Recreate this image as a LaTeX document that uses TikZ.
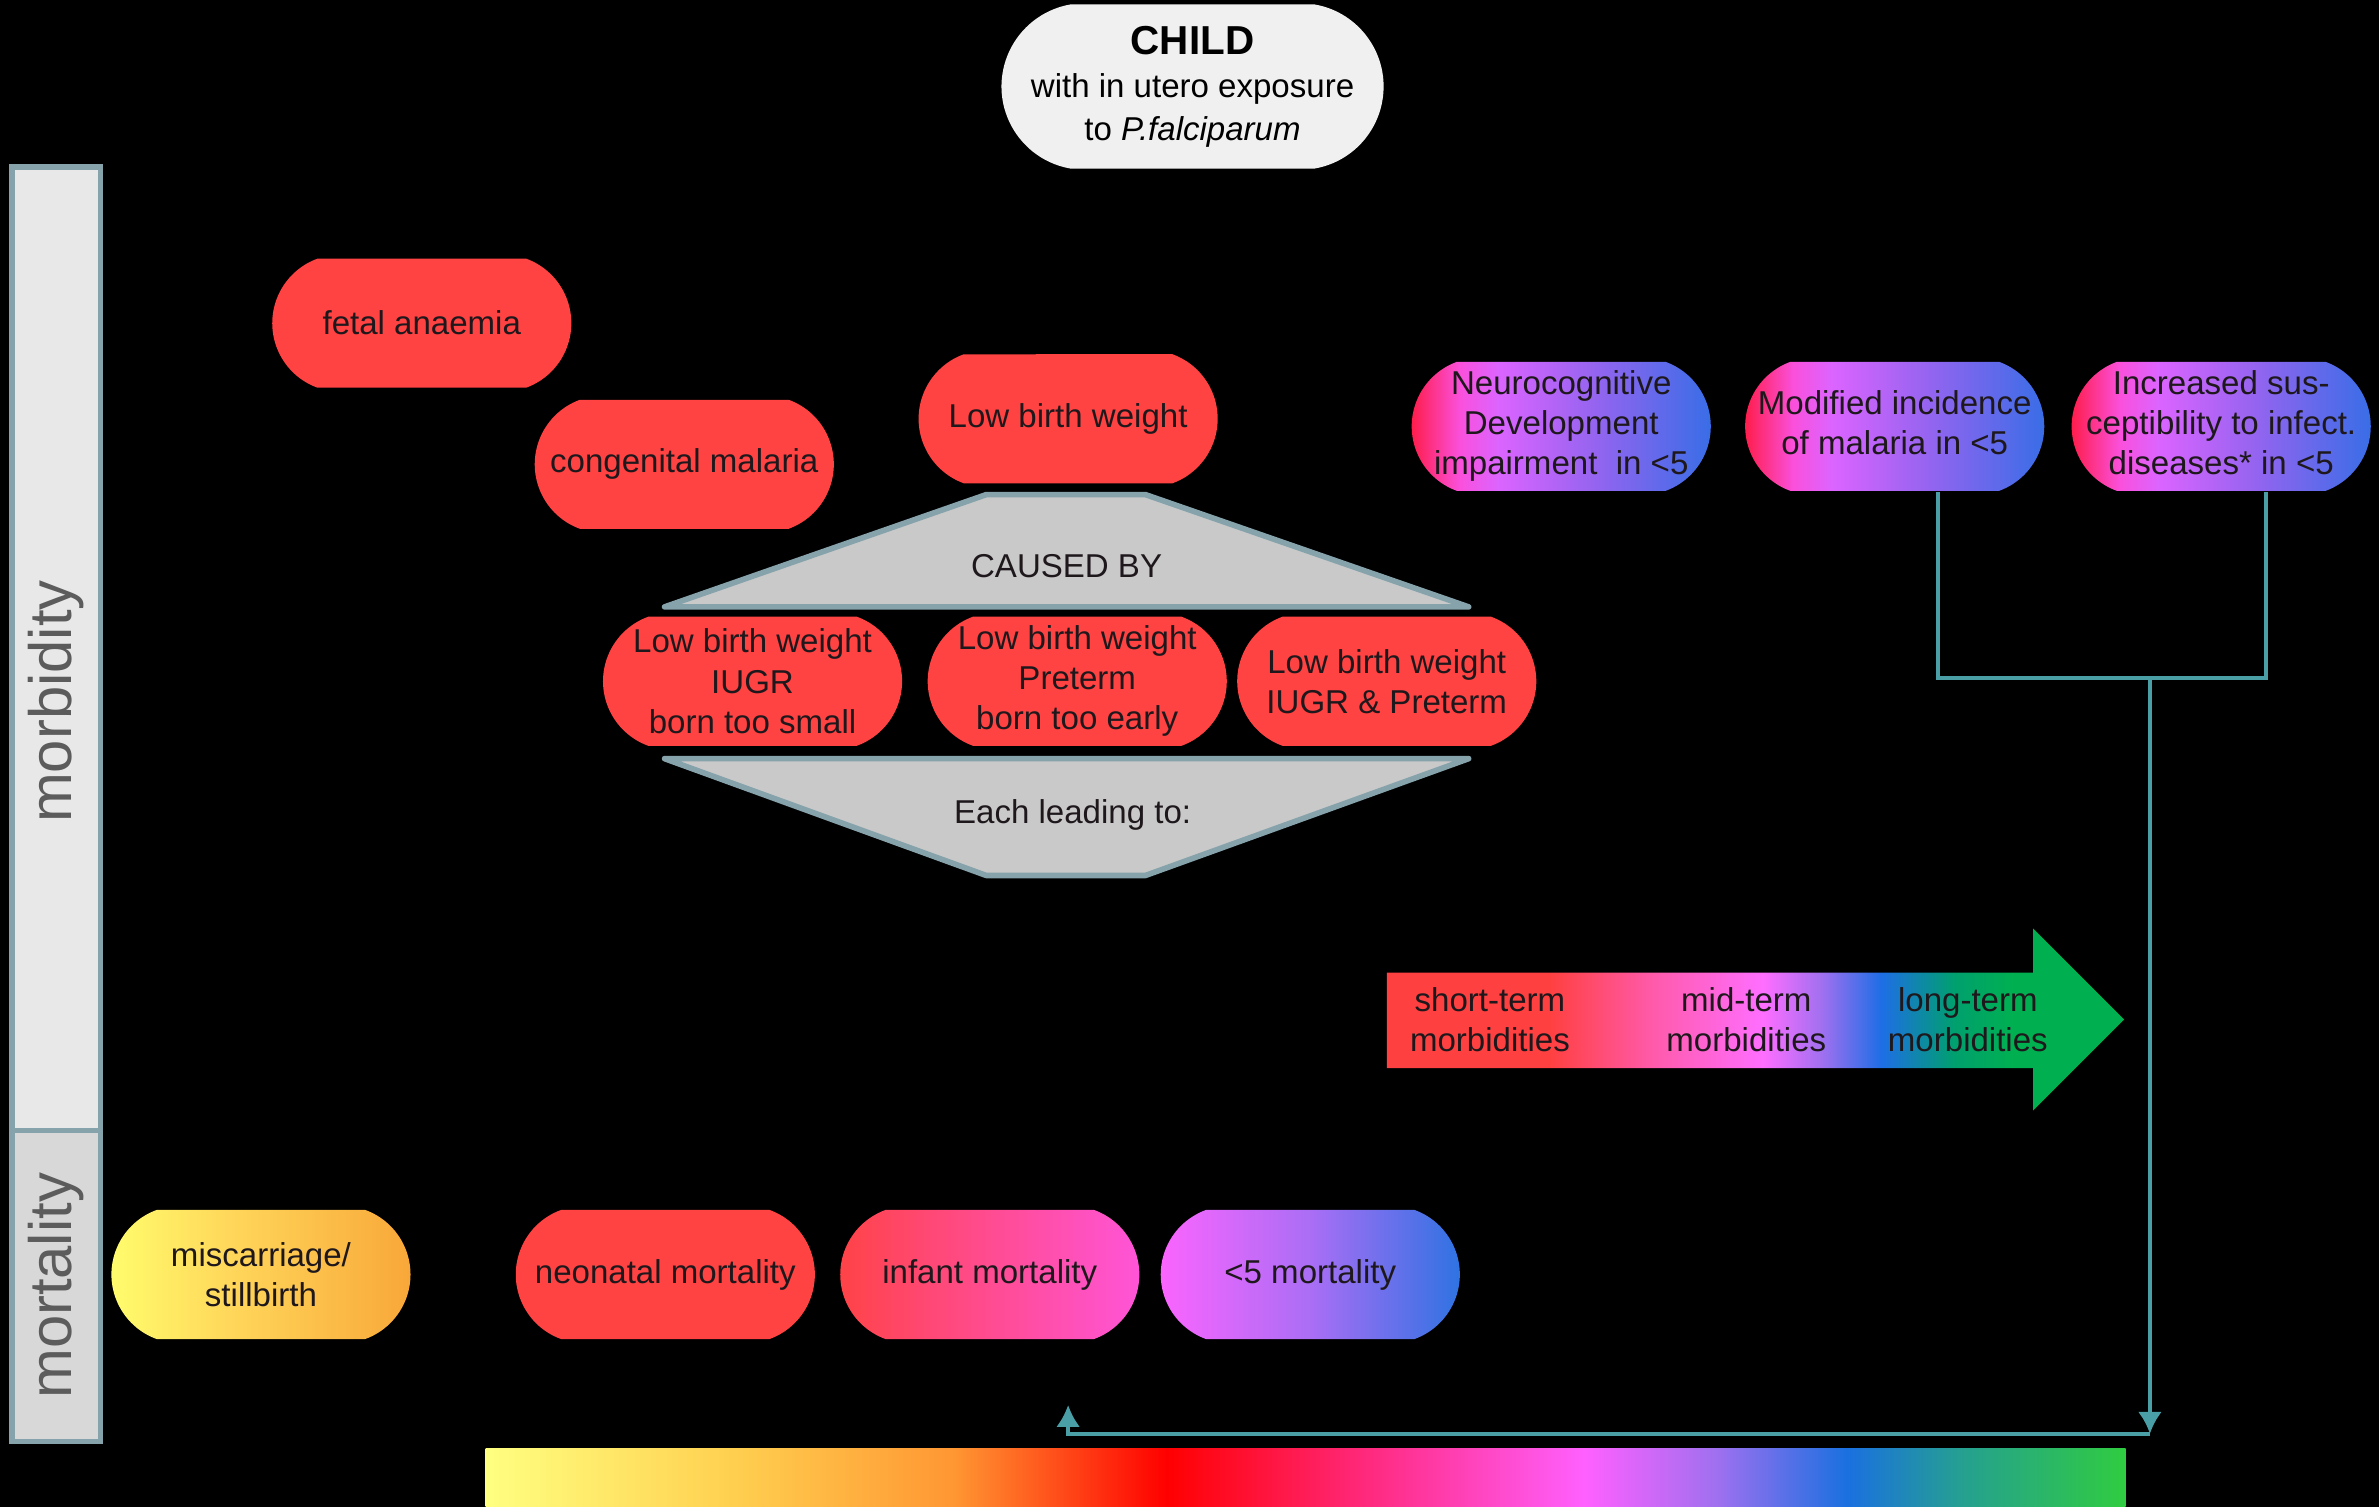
\documentclass[tikz,border=0pt]{standalone}
\usepackage{fontspec}
\setmainfont{Liberation Sans}
\usetikzlibrary{arrows,arrows.meta,shapes,positioning}

\definecolor{pillred}{RGB}{255,66,66}
\definecolor{inktext}{RGB}{30,24,28}
\definecolor{childgrey}{RGB}{240,240,240}
\definecolor{panelgrey}{RGB}{201,201,201}
\definecolor{edgeteal}{RGB}{134,163,171}
\definecolor{linkteal}{RGB}{74,158,166}
\definecolor{morbgrey}{RGB}{232,232,232}
\definecolor{mortgrey}{RGB}{216,216,216}
\definecolor{labelgrey}{RGB}{92,92,92}

% colour ramps
\definecolor{barYellow}{RGB}{255,255,128}
\definecolor{barGold}{RGB}{255,208,80}
\definecolor{barOrange}{RGB}{255,150,50}
\definecolor{barRed}{RGB}{255,0,0}
\definecolor{barRose}{RGB}{255,42,128}
\definecolor{barPink}{RGB}{255,96,255}
\definecolor{barViolet}{RGB}{160,112,240}
\definecolor{barBlue}{RGB}{26,112,224}
\definecolor{barTeal}{RGB}{37,160,144}
\definecolor{barGreen}{RGB}{48,204,64}
\definecolor{arrRed}{RGB}{255,64,64}
\definecolor{arrRose}{RGB}{255,90,170}
\definecolor{arrPink}{RGB}{255,110,255}
\definecolor{arrViolet}{RGB}{160,112,240}
\definecolor{arrBlue}{RGB}{30,110,230}
\definecolor{arrTeal}{RGB}{0,160,110}
\definecolor{arrGreen}{RGB}{0,176,80}
\definecolor{midRed}{RGB}{255,20,50}
\definecolor{midRose}{RGB}{250,80,220}
\definecolor{midPink}{RGB}{220,100,255}
\definecolor{midViolet}{RGB}{150,100,240}
\definecolor{midBlue}{RGB}{50,110,230}
\definecolor{infRose}{RGB}{255,70,100}
\definecolor{infPink}{RGB}{255,85,220}
\definecolor{uPink}{RGB}{255,100,255}
\definecolor{uViolet}{RGB}{170,110,245}
\definecolor{uBlue}{RGB}{40,115,225}
\definecolor{misYellow}{RGB}{255,255,110}
\definecolor{misGold}{RGB}{255,215,90}
\definecolor{misOrange}{RGB}{248,165,55}

\pgfdeclarehorizontalshading{timebar}{100bp}{color(0bp)=(barYellow); color(25bp)=(barYellow); color(32.5bp)=(barGold); color(39.3bp)=(barOrange); color(45.75bp)=(barRed); color(52bp)=(barRose); color(58.5bp)=(barPink); color(62.5bp)=(barViolet); color(66.5bp)=(barBlue); color(70bp)=(barTeal); color(75bp)=(barGreen); color(100bp)=(barGreen)}
\pgfdeclarehorizontalshading{termarrow}{100bp}{color(0bp)=(arrRed); color(25bp)=(arrRed); color(36bp)=(arrRed); color(43bp)=(arrRose); color(50.5bp)=(arrPink); color(54.5bp)=(arrViolet); color(58.5bp)=(arrBlue); color(63.5bp)=(arrTeal); color(67.5bp)=(arrGreen); color(100bp)=(arrGreen)}
\pgfdeclarehorizontalshading{midpill}{100bp}{color(0bp)=(midRed); color(25bp)=(midRed); color(34bp)=(midRose); color(40bp)=(midPink); color(55bp)=(midViolet); color(75bp)=(midBlue); color(100bp)=(midBlue)}
\pgfdeclarehorizontalshading{infantpill}{100bp}{color(0bp)=(pillred); color(25bp)=(pillred); color(35bp)=(infRose); color(75bp)=(infPink); color(100bp)=(infPink)}
\pgfdeclarehorizontalshading{ufivepill}{100bp}{color(0bp)=(uPink); color(25bp)=(uPink); color(50bp)=(uViolet); color(75bp)=(uBlue); color(100bp)=(uBlue)}
\pgfdeclarehorizontalshading{miscpill}{100bp}{color(0bp)=(misYellow); color(25bp)=(misYellow); color(45bp)=(misGold); color(75bp)=(misOrange); color(100bp)=(misOrange)}

% lets a wide label spill over the pill ends
\newcommand{\squeeze}[1]{\raisebox{-1.2pt}{\makebox[1.9cm]{\begin{tabular}{@{}c@{}}#1\end{tabular}}}}

\begin{document}
\begin{tikzpicture}[
    x=0.01517cm,
    y=-0.01517cm,
    node distance=0.3cm and 0.3cm,
    font=\fontsize{9.4}{11.4}\selectfont,
    text centered
  ]

  \tikzstyle{pill} = [rounded rectangle, rounded rectangle arc length=140, minimum width=3.06cm, minimum height=1.29cm, inner sep=.1em, align=center, text=inktext]
  \tikzstyle{redpill} = [pill, fill=pillred]
  \tikzstyle{shadepill} = [pill, shade]
  \tikzstyle{sidebar} = [rectangle, draw=edgeteal, line width=1.5pt, rotate=90, text=labelgrey, font=\fontsize{17}{20}\selectfont, minimum height=0.88cm, inner sep=0pt]
  \tikzstyle{plate} = [fill=panelgrey, draw=edgeteal, line width=1.6pt, line join=round]
  \tikzstyle{platetext} = [text=inktext, inner sep=0pt]
  \tikzstyle{link} = [draw=linkteal, line width=1pt]
  \tikzstyle{term} = [align=center, text=inktext, inner sep=0pt]

  \fill[black] (0,0) rectangle (1568,993);
  \useasboundingbox (0,0) rectangle (1568,993);

  \node [rounded rectangle, rounded rectangle arc length=160, fill=childgrey, minimum width=3.82cm, minimum height=1.64cm, align=center, inner sep=0pt, font=\fontsize{9.4}{12.2}\selectfont] (child) at (786,57) {{\fontsize{11.5}{13.5}\selectfont\bfseries CHILD}\\with in utero exposure\\to \textit{P.falciparum}};

  \node [sidebar, fill=morbgrey, minimum width=9.63cm] (morbBox) at (37,427.5) {morbidity\hspace*{1.06cm}};
  \node [sidebar, fill=mortgrey, minimum width=3.11cm] (mortBox) at (37,847.5) {mortality};

  \node [redpill] (fetal) at (278,213) {fetal anaemia};
  \node [redpill] (congenital) at (451,306) {congenital malaria};
  \node [redpill] (lbw) at (704,276) {Low birth weight};

  \filldraw [plate] (650,326) -- (755,326) -- (968,400) -- (438,400) -- cycle;
  \node [platetext] (causedBy) at (703,373) {CAUSED BY};
  \node [redpill] (iugr) at (496,449) {Low birth weight\\IUGR\\born too small};
  \node [redpill] (preterm) at (710,449) {Low birth weight\\Preterm\\born too early};
  \node [redpill] (bothCause) at (914,449) {Low birth weight\\IUGR \& Preterm};
  \filldraw [plate] (438,500) -- (968,500) -- (755,577) -- (650,577) -- cycle;
  \node [platetext] (leading) at (707,537) {Each leading to:};

  \node [shadepill, shading=midpill] (neuro) at (1029,281) {\squeeze{Neurocognitive\\Development\\impairment~ in <5}};
  \node [shadepill, shading=midpill, right=0.33cm of neuro] (modInc) {\squeeze{Modified incidence\\of malaria in <5}};
  \node [shadepill, shading=midpill, right=0.26cm of modInc] (incSus) {\squeeze{Increased sus-\\ceptibility to infect.\\diseases* in <5}};

  % morbidity time arrow
  \shade[shading=termarrow] (914,641) -- (1340,641) -- (1340,612) -- (1400,672) -- (1340,732) -- (1340,704) -- (914,704) -- cycle;
  \node [term] (shortTerm) at (982,672) {short-term\\morbidities};
  \node [term] (midTerm) at (1151,672) {mid-term\\morbidities};
  \node [term] (longTerm) at (1297,672) {long-term\\morbidities};

  \node [shadepill, shading=miscpill] (misc) at (172,840) {miscarriage/\\stillbirth};
  \node [redpill] (neonatal) at (438.5,840) {neonatal mortality};
  \node [shadepill, shading=infantpill, right=0.24cm of neonatal] (infant) {infant mortality};
  \node [shadepill, shading=ufivepill, right=0.2cm of infant] (ufive) {<5 mortality};

  % time bar
  \shade[shading=timebar] (320,955) rectangle (1401,993);

  \coordinate (join) at (1417,447);
  \coordinate (turn) at (1417,945);
  \coordinate (lbwMark) at (704,926);

  \draw[link] ([xshift=0.43cm]modInc.south) |- (join) -| ([xshift=0.45cm]incSus.south);
  \draw[link, -{Latex[length=0.22cm,width=0.24cm]}] (join) -- (turn);
  \draw[link, -{Latex[length=0.22cm,width=0.24cm]}] (turn) -| (lbwMark);

\end{tikzpicture}
\end{document}
